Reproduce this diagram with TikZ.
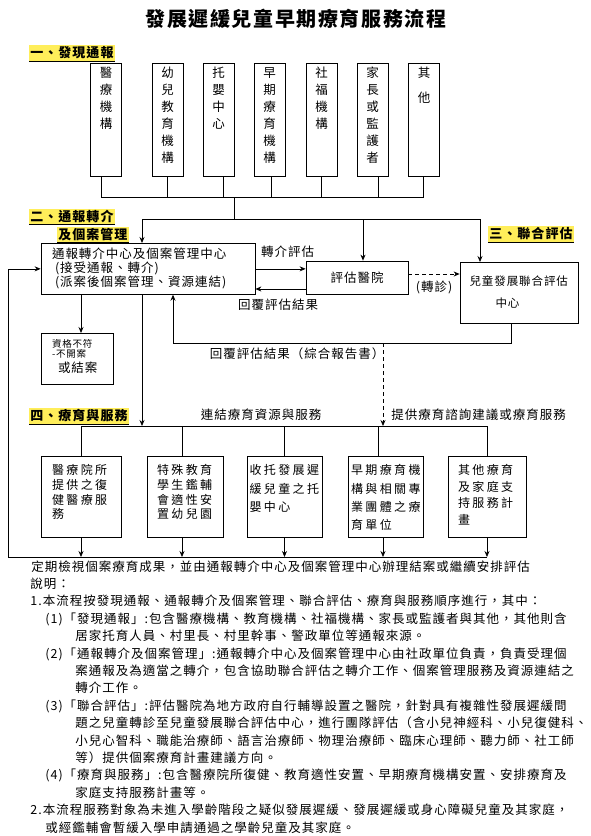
\documentclass[tikz,border=0pt]{standalone}
\usepackage{fontspec}
\setmainfont{Noto Sans CJK TC}
\newfontfamily\espaciado[LetterSpace=8]{Noto Sans CJK TC}
\newfontfamily\abierto[LetterSpace=20]{Noto Sans CJK TC}
\definecolor{resaltado}{RGB}{255,238,90}
\newcommand{\tam}[2]{\fontsize{#1}{#2}\selectfont}
\usetikzlibrary{calc,positioning,arrows.meta}

\begin{document}
\begin{tikzpicture}[x=1pt,y=-1pt,>={Stealth[length=6pt,width=5pt]},line width=0.7pt,
  every node/.style={font=\espaciado\tam{12.5}{15},inner sep=0pt},
  seccion/.style={fill=resaltado,font=\espaciado\bfseries\tam{13}{15},inner xsep=1pt,inner ysep=1.5pt,anchor=west,
    append after command={(\tikzlastnode.south west) edge[line width=1pt] (\tikzlastnode.south east)}},
  origen/.style={draw,text width=31pt,inner xsep=0pt,inner ysep=2pt,anchor=north,align=center,
    font=\tam{12.5}{17},text height=12.4pt,text depth=96.6pt},
  caja/.style={draw,inner ysep=2pt,anchor=north},
  servicio/.style 2 args={caja,inner xsep=#1,text width=#2,align=left,font=\abierto\tam{12}{14.7},
    text height=16.4pt,text depth=60.6pt}]

\useasboundingbox (0,0) rectangle (591,836);

% Titulo y secciones
\node (titulo) at (296,19) {\bfseries\tam{20}{24}發展遲緩兒童早期療育服務流程};
\node[seccion] (sec1) at (29,53) {一、發現通報};
\node[seccion] (sec2) at (29,216.5) {二、通報轉介};
\node[seccion] (sec2b) at (57,234.5) {及個案管理};
\node[seccion] (sec3) at (488,234) {三、聯合評估};
\node[seccion] (sec4) at (29,416) {四、療育與服務};

% Fuentes de notificacion
\node[origen] (medico) at (106,63) {醫\\療\\機\\構};
\node[origen] (preescolar) at (167.5,63) {幼\\兒\\教\\育\\機\\構};
\node[origen] (guarderia) at (218.5,63) {托\\嬰\\中\\心};
\node[origen] (temprana) at (269.5,63) {早\\期\\療\\育\\機\\構};
\node[origen] (social) at (321.5,63) {社\\福\\機\\構};
\node[origen] (padres) at (372.5,63) {家\\長\\或\\監\\護\\者};
\node[origen] (otros) at (424,63) {其\\[8pt]他};

% Cajas centrales
\node[caja,text width=192pt,inner xsep=11pt,align=left,font=\espaciado\tam{12.5}{14},
  text height=13.4pt,text depth=33.6pt] (centro) at (148,243)
  {通報轉介中心及個案管理中心\\\hspace*{3pt}(接受通報、轉介)\\\hspace*{3pt}(派案後個案管理、資源連結)};
\node[caja,anchor=center,minimum width=102pt,minimum height=33pt] (hospital) at (357,277.5) {評估醫院};
\node[caja,text width=99pt,inner xsep=9.5pt,align=left,font=\espaciado\tam{11.5}{22},
  text height=21.4pt,text depth=35.6pt] (conjunto) at (519,262) {兒童發展聯合評估\\\hspace*{26pt}中心};
\node[caja,text width=50pt,inner xsep=11pt,align=left,font=\espaciado\tam{9.5}{10},
  text height=12.3pt,text depth=34.7pt] (rechazo) at (77,333)
  {資格不符\\-不開案\\[3pt]{\tam{12.5}{15}\hspace*{6pt}或結案}};

% Servicios
\node[servicio={11pt}{58pt}] (servA) at (81,456) {醫療院所\\提供之復\\健醫療服\\務};
\node[servicio={10pt}{56pt}] (servB) at (185,456) {特殊教育\\學生鑑輔\\會適性安\\置幼兒園};
\node[servicio={2.5pt}{70pt},font=\abierto\tam{12}{18.3}] (servC) at (284.5,456) {收托發展遲\\緩兒童之托\\嬰中心};
\node[servicio={3pt}{69pt},font=\abierto\tam{12}{18.3}] (servD) at (385.5,456) {早期療育機\\構與相關專\\業團體之療\\育單位};
\node[servicio={10pt}{58pt},font=\abierto\tam{12}{16.5}] (servE) at (487,456) {其他療育\\及家庭支\\持服務計\\畫};

% Barras horizontales
\coordinate (bus1) at (0,197);
\coordinate (bus2) at (0,219);
\coordinate (bus3) at (0,426);
\coordinate (bus4) at (0,557);

% Union de las fuentes
\coordinate (p1) at ([xshift=-5pt]medico.south);
\coordinate (p2) at (preescolar.south);
\coordinate (p3) at ([xshift=4.5pt]guarderia.south);
\coordinate (p4) at ([xshift=1.5pt]temprana.south);
\coordinate (p5) at (social.south);
\coordinate (p6) at ([xshift=5.5pt]padres.south);
\coordinate (p7) at ([xshift=-1pt]otros.south);
\draw (p1) -- (p1 |- bus1) -- (p7 |- bus1) -- (p7);
\foreach \p in {p2,p3,p4,p5,p6}
  \draw (\p) -- (\p |- bus1);
\coordinate (tronco) at (234,197);
\draw (tronco) -- (tronco |- bus2);
\coordinate (b2a) at (142,219);
\coordinate (b2b) at (363,219);
\coordinate (b2c) at (480,219);
\draw (b2a) -- (b2c);
\draw[->] (b2a) -- (b2a |- centro.north);
\draw[->] (b2b) -- (b2b |- hospital.north);
\draw[->] (b2c) -- (b2c |- conjunto.north);

% Evaluacion
\draw[->] (centro.east) -- node[above=11pt,xshift=7pt] (lbl1) {轉介評估} (centro.east -| hospital.west);
\coordinate (vuelta) at ([yshift=-11.5pt]hospital.west);
\draw[->] (vuelta) -- node[below=10pt,xshift=-2.5pt] (lbl2) {回覆評估結果} (vuelta -| centro.east);
\coordinate (deriva) at ([yshift=3.5pt]hospital.east);
\draw[->,dash pattern=on 4pt off 3pt] (deriva) -- node[below=7pt] (lbl3) {(轉診)} (deriva -| conjunto.west);

% Informe de vuelta
\coordinate (informe) at (511,343);
\coordinate (retorno) at (173,343);
\draw[->] (informe |- conjunto.south) -- (informe) -- (retorno) -- (retorno |- centro.south);
\node (lbl4) at (297,354) {回覆評估結果（綜合報告書）};
\coordinate (consulta) at (383,343);
\draw[->,dash pattern=on 4pt off 3pt] (consulta) -- (consulta |- bus3);

% Salidas del centro
\coordinate (descarte) at ([xshift=4pt]rechazo.north);
\draw[->] (descarte |- centro.south) -- (descarte);
\coordinate (bajada) at ([xshift=-6pt]centro.south);
\draw[->] (bajada) -- (bajada |- bus3);
\coordinate (lazo) at (8,557);
\draw[->] (lazo) |- (centro.west);

% Reparto a servicios
\draw (servA.north |- bus3) -- (servE.north |- bus3);
\coordinate (sB) at ([xshift=-3pt]servB.north);
\coordinate (sD) at ([xshift=-7.5pt]servD.north);
\foreach \s in {servA.north,sB,servC.north,sD,servE.north}
  \draw (\s |- bus3) -- (\s);
\coordinate (iB) at ([xshift=-3pt]servB.south);
\coordinate (iD) at ([xshift=-2.5pt]servD.south);
\foreach \s in {servA.south,iB,servC.south,iD,servE.south}
  \draw[->] (\s) -- (\s |- bus4);
\draw (lazo) -- (servE.south |- bus4);
\node (lbl5) at (261,415) {連結療育資源與服務};
\node[anchor=west] (lbl6) at (391,415) {提供療育諮詢建議或療育服務};

% Notas
\node[anchor=west] (cierre) at (31,567) {定期檢視個案療育成果，並由通報轉介中心及個案管理中心辦理結案或繼續安排評估};
\node[anchor=base west,text width=560pt,align=left,font=\espaciado\tam{12.5}{17.4}] (notas) at (30,588.4)
  {說明：\\
   1.本流程按發現通報、通報轉介及個案管理、聯合評估、療育與服務順序進行，其中：\\
   \hspace*{15pt}(1)「發現通報」:包含醫療機構、教育機構、社福機構、家長或監護者與其他，其他則含\\
   \hspace*{45pt}居家托育人員、村里長、村里幹事、警政單位等通報來源。\\
   \hspace*{15pt}(2)「通報轉介及個案管理」:通報轉介中心及個案管理中心由社政單位負責，負責受理個\\
   \hspace*{45pt}案通報及為適當之轉介，包含協助聯合評估之轉介工作、個案管理服務及資源連結之\\
   \hspace*{45pt}轉介工作。\\
   \hspace*{15pt}(3)「聯合評估」:評估醫院為地方政府自行輔導設置之醫院，針對具有複雜性發展遲緩問\\
   \hspace*{45pt}題之兒童轉診至兒童發展聯合評估中心，進行團隊評估（含小兒神經科、小兒復健科、\\
   \hspace*{45pt}小兒心智科、職能治療師、語言治療師、物理治療師、臨床心理師、聽力師、社工師\\
   \hspace*{45pt}等）提供個案療育計畫建議方向。\\
   \hspace*{15pt}(4)「療育與服務」:包含醫療院所復健、教育適性安置、早期療育機構安置、安排療育及\\
   \hspace*{45pt}家庭支持服務計畫等。\\
   2.本流程服務對象為未進入學齡階段之疑似發展遲緩、發展遲緩或身心障礙兒童及其家庭，\\
   \hspace*{15pt}或經鑑輔會暫緩入學申請通過之學齡兒童及其家庭。};

\end{tikzpicture}
\end{document}
